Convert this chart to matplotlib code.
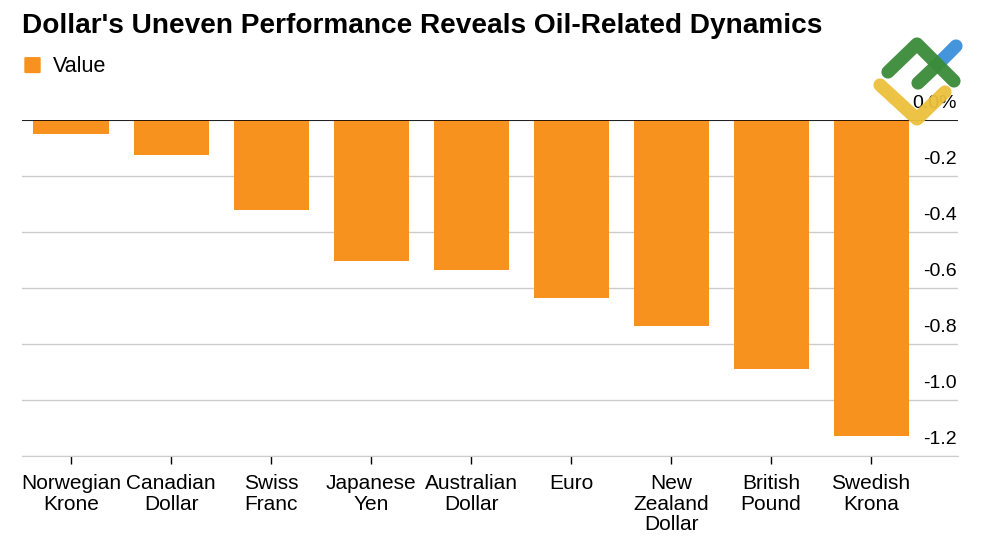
import matplotlib
matplotlib.use("Agg")
import matplotlib.pyplot as plt
import matplotlib.transforms as mtrans
from matplotlib.lines import Line2D
from matplotlib.patches import FancyBboxPatch
from matplotlib.ticker import FuncFormatter

plt.rcParams['font.family'] = ['Liberation Sans', 'DejaVu Sans']

# Data
currencies = ['Norwegian\nKrone', 'Canadian\nDollar', 'Swiss\nFranc', 'Japanese\nYen',
              'Australian\nDollar', 'Euro', 'New\nZealand\nDollar', 'British\nPound',
              'Swedish\nKrona']
values = [-0.05, -0.125, -0.32, -0.505, -0.535, -0.635, -0.735, -0.89, -1.13]
yticks = [0.0, -0.2, -0.4, -0.6, -0.8, -1.0, -1.2]

bar_color = '#F7921F'

fig = plt.figure(figsize=(10, 5.45), dpi=100)
ax = fig.add_axes([0.022, 0.1633, 0.936, 0.6165])

x = list(range(len(currencies)))
ax.bar(x, values, width=0.75, color=bar_color, zorder=2)
ax.axhline(0, color='black', lw=1.2, zorder=3)

ax.set_xlim(-0.49, 8.87)
ax.set_ylim(-1.2, 0)
ax.set_yticks(yticks)
ax.yaxis.grid(True, color='#cccccc', lw=1, zorder=0)
ax.yaxis.tick_right()
ax.yaxis.set_major_formatter(FuncFormatter(lambda v, p: '0.0%' if abs(v) < 1e-9 else f'{v:.1f}'))
ax.tick_params(axis='y', length=0, pad=-1, labelsize=14)

# y labels sit above the grid lines, right-aligned
offset = mtrans.ScaledTranslation(0, 6 / 72, fig.dpi_scale_trans)
for t in ax.yaxis.get_major_ticks():
    t.label2.set_va('bottom')
    t.label2.set_ha('right')
    t.label2.set_transform(t.label2.get_transform() + offset)

ax.set_xticks(x)
ax.set_xticklabels(currencies, fontsize=15, linespacing=1.1)
ax.tick_params(axis='x', length=6, width=1, color='black', pad=7)

for s in ['top', 'left', 'right']:
    ax.spines[s].set_visible(False)
ax.spines['bottom'].set_color('#cccccc')

# Title and legend
fig.text(0.022, 0.94, "Dollar's Uneven Performance Reveals Oil-Related Dynamics",
         fontsize=20.2, fontweight='bold', ha='left', va='baseline')
fig.patches.append(FancyBboxPatch((0.026, 0.868), 0.013, 0.025,
                                  boxstyle='round,pad=0.001', transform=fig.transFigure,
                                  color=bar_color))
fig.text(0.053, 0.868, 'Value', fontsize=15.5, ha='left', va='baseline')

# Logo watermark
def fpt(px, py):
    return px / 1000, 1 - py / 545

def stroke(pts, color):
    xs = [fpt(*p)[0] for p in pts]
    ys = [fpt(*p)[1] for p in pts]
    fig.add_artist(Line2D(xs, ys, color=color, lw=9.5, solid_capstyle='round',
                          solid_joinstyle='round', transform=fig.transFigure, alpha=0.95))

stroke([(940, 62), (956, 46)], '#3A8FDB')
stroke([(888, 72), (917, 44), (954, 81)], '#3A8B3A')
stroke([(918, 83), (936, 66)], '#3A8B3A')
stroke([(880, 85), (917, 119), (945, 92)], '#EBC03A')

fig.savefig('out.png', dpi=100)
